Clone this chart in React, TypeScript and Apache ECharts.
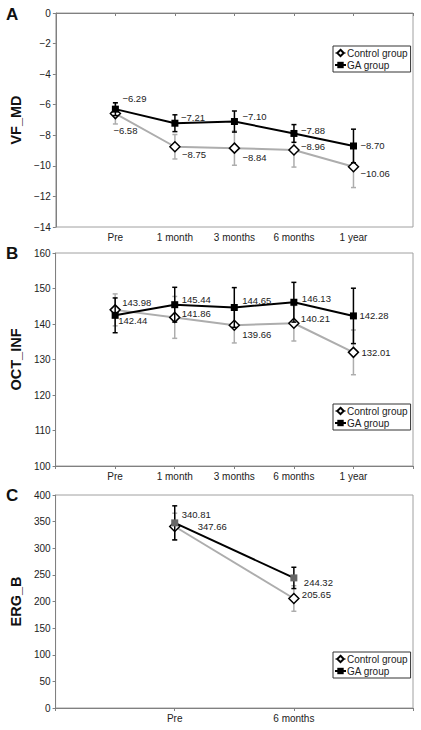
import React, { useEffect, useRef } from "react";
import * as echarts from "echarts";

const categoriesAB = ["Pre", "1 month", "3 months", "6 months", "1 year"];
const categoriesC = ["Pre", "6 months"];

const vfControl = [-6.58, -8.75, -8.84, -8.96, -10.06];
const vfControlSD = [0.68, 0.8, 1.12, 1.12, 1.36];
const vfGA = [-6.29, -7.21, -7.1, -7.88, -8.7];
const vfGASD = [0.42, 0.55, 0.69, 0.58, 1.1];

const octControl = [143.98, 141.86, 139.66, 140.21, 132.01];
const octControlSD = [4.5, 5.9, 5.0, 5.0, 6.3];
const octGA = [142.44, 145.44, 144.65, 146.13, 142.28];
const octGASD = [4.9, 4.9, 5.6, 5.6, 7.8];

const ergControl = [340.81, 205.65];
const ergControlSD = [25, 24];
const ergGA = [347.66, 244.32];
const ergGASD = [32, 20];

// label offsets (px) from point centre to label's left/middle
const vfControlLabelOff = [[-2, 17], [7, 8], [8, 9], [7, -3], [7, 7]];
const vfGALabelOff = [[7, -11], [6, -6], [8, -5], [7, -3], [7, 0]];
const octControlLabelOff = [[7, -7], [7, -4], [8, 9], [7, -5], [8, 0]];
const octGALabelOff = [[3, 5], [7, -5], [8, -7], [8, -4], [6, 0]];
const ergControlLabelOff = [[7, -12], [8, -4]];
const ergGALabelOff = [[23, 4], [10, 5]];

const FONT = "Liberation Sans, Arial, sans-serif";
const CTRL_COLOR = "#adadad";
const TEXT = "#222";

const fmt = (v: number, d: number) => (v < 0 ? "\u2212" + Math.abs(v).toFixed(d) : v.toFixed(d));

function errSeries(idx: number, values: number[], sds: number[], color: string, z: number) {
  return {
    type: "custom",
    name: "err" + idx + color,
    xAxisIndex: idx,
    yAxisIndex: idx,
    z,
    silent: true,
    encode: { x: 0, y: 1 },
    data: values.map((v, i) => [i + 1, v, sds[i]]),
    renderItem: (params: any, api: any) => {
      const x = api.value(0);
      const m = api.value(1);
      const s = api.value(2);
      const top = api.coord([x, m + s]);
      const bot = api.coord([x, m - s]);
      const w = 2.5;
      const style = { stroke: color, lineWidth: 1.5 };
      return {
        type: "group",
        children: [
          { type: "line", shape: { x1: top[0], y1: top[1], x2: bot[0], y2: bot[1] }, style },
          { type: "line", shape: { x1: top[0] - w, y1: top[1], x2: top[0] + w, y2: top[1] }, style },
          { type: "line", shape: { x1: bot[0] - w, y1: bot[1], x2: bot[0] + w, y2: bot[1] }, style },
        ],
      };
    },
  };
}

function lineSeries(
  name: string,
  idx: number,
  values: number[],
  offs: number[][],
  isGA: boolean,
  markerColor: string,
  z: number
) {
  return {
    type: "line",
    name,
    xAxisIndex: idx,
    yAxisIndex: idx,
    z,
    data: values.map((v, i) => ({ value: [i + 1, v], label: { offset: offs[i] } })),
    symbol: isGA ? "rect" : "diamond",
    symbolSize: isGA ? 7 : 10,
    itemStyle: isGA
      ? { color: markerColor, borderColor: markerColor, borderWidth: 0 }
      : { color: "#fff", borderColor: "#000", borderWidth: 1.5 },
    lineStyle: { color: isGA ? "#000" : CTRL_COLOR, width: 2 },
    label: {
      show: true,
      position: "inside",
      align: "left",
      verticalAlign: "middle",
      formatter: (p: any) => fmt(p.value[1], 2),
      fontSize: 9.5,
      color: TEXT,
      fontFamily: FONT,
    },
  };
}

const grids = [
  { left: 49, top: 13, width: 364, height: 214 },
  { left: 49, top: 253, width: 364, height: 213 },
  { left: 49, top: 495, width: 364, height: 213 },
];

function xAxis(idx: number, cats: string[]) {
  return {
    type: "value",
    gridIndex: idx,
    min: 0,
    max: cats.length + 1,
    interval: 1,
    axisLine: { show: true, lineStyle: { color: "#808080", width: 1 } },
    axisTick: { show: true, length: 3, lineStyle: { color: "#808080" } },
    splitLine: { show: false },
    axisLabel: {
      formatter: (v: number) => cats[v - 1] || "",
      fontSize: 10,
      color: TEXT,
      fontFamily: FONT,
      margin: 5,
    },
  };
}

function yAxis(idx: number, name: string, min: number, max: number, interval: number) {
  return {
    type: "value",
    gridIndex: idx,
    min,
    max,
    interval,
    name,
    nameLocation: "middle",
    nameGap: 25,
    nameTextStyle: { fontSize: 14.5, fontWeight: "bold", color: "#111", fontFamily: FONT },
    axisLine: { show: true, lineStyle: { color: "#808080", width: 1 } },
    axisTick: { show: true, length: 3, lineStyle: { color: "#808080" } },
    splitLine: { show: false },
    axisLabel: {
      formatter: (v: number) => fmt(v, 0),
      fontSize: 10,
      color: TEXT,
      fontFamily: FONT,
      margin: 5,
    },
  };
}

function legend(top: number) {
  return {
    left: 333,
    top,
    orient: "vertical",
    data: ["Control group", "GA group"],
    itemWidth: 11,
    itemHeight: 8,
    itemGap: 2,
    padding: [2, 3, 2, 1],
    borderColor: "#333",
    borderWidth: 1,
    selectedMode: false,
    textStyle: { fontSize: 10, color: TEXT, fontFamily: FONT, padding: [0, 0, 0, -4] },
  };
}

export default function App() {
  const ref = useRef<HTMLDivElement>(null);
  useEffect(() => {
    if (!ref.current) return;
    const chart = echarts.init(ref.current, null, { renderer: "svg" });
    chart.setOption({
      animation: false,
      backgroundColor: "#fff",
      grid: grids.map((g) => ({ ...g, show: true, borderColor: "#a0a0a0", borderWidth: 1, backgroundColor: "transparent" })),
      xAxis: [xAxis(0, categoriesAB), xAxis(1, categoriesAB), xAxis(2, categoriesC)],
      yAxis: [
        yAxis(0, "VF_MD", -14, 0, 2),
        yAxis(1, "OCT_INF", 100, 160, 10),
        yAxis(2, "ERG_B", 0, 400, 50),
      ],
      legend: [legend(46), legend(404), legend(652)],
      graphic: [
        { type: "text", left: 6, top: 6, style: { text: "A", fontSize: 17, fontWeight: "bold", fontFamily: FONT, fill: "#111" } },
        { type: "text", left: 6, top: 245, style: { text: "B", fontSize: 17, fontWeight: "bold", fontFamily: FONT, fill: "#111" } },
        { type: "text", left: 6, top: 487, style: { text: "C", fontSize: 17, fontWeight: "bold", fontFamily: FONT, fill: "#111" } },
      ],
      series: [
        errSeries(0, vfControl, vfControlSD, CTRL_COLOR, 2),
        lineSeries("Control group", 0, vfControl, vfControlLabelOff, false, "#fff", 3),
        errSeries(0, vfGA, vfGASD, "#000", 4),
        lineSeries("GA group", 0, vfGA, vfGALabelOff, true, "#000", 5),

        errSeries(1, octControl, octControlSD, CTRL_COLOR, 2),
        lineSeries("Control group", 1, octControl, octControlLabelOff, false, "#fff", 3),
        errSeries(1, octGA, octGASD, "#000", 4),
        lineSeries("GA group", 1, octGA, octGALabelOff, true, "#000", 5),

        errSeries(2, ergControl, ergControlSD, CTRL_COLOR, 2),
        lineSeries("Control group", 2, ergControl, ergControlLabelOff, false, "#fff", 3),
        errSeries(2, ergGA, ergGASD, "#000", 4),
        lineSeries("GA group", 2, ergGA, ergGALabelOff, true, "#666", 5),
      ],
    });
    return () => chart.dispose();
  }, []);
  return (
    <div
      ref={ref}
      style={{ position: "absolute", left: 0, top: 0, width: 421, height: 730, background: "#fff" }}
    />
  );
}
